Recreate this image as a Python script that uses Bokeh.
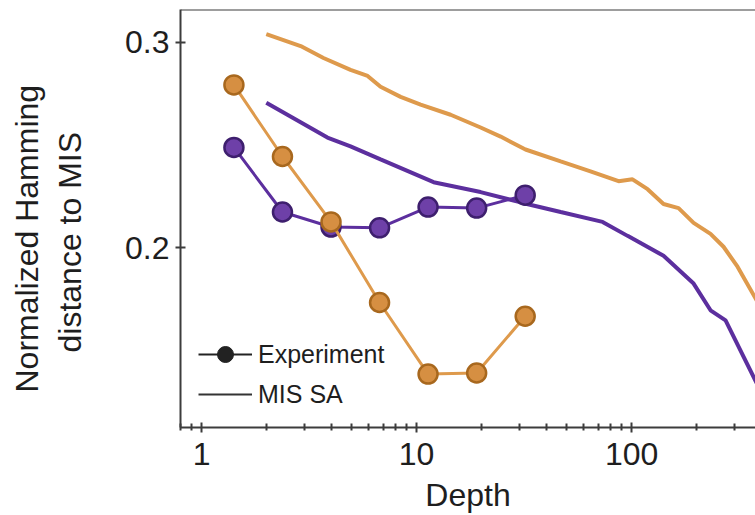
import math
from bokeh.plotting import figure
from bokeh.models import FixedTicker, Span, Title, Legend, LegendItem, Range1d
from bokeh.embed import file_html
from bokeh.resources import INLINE

# ---- data ----
exp_depth = [1.414, 2.378, 4.0, 6.727, 11.31, 19.03, 32.0]
exp_purple = [0.2488, 0.2174, 0.2101, 0.2097, 0.2198, 0.2193, 0.2256]
exp_orange = [0.2792, 0.2444, 0.2126, 0.1734, 0.1386, 0.1391, 0.1667]

sa_orange_depth = [2.0, 2.89, 3.69, 4.93, 5.92, 6.80, 8.43, 10.44, 14.4, 19.85, 24.6, 32.1,
                   46.8, 64.4, 87.0, 101.0, 118.7, 140.8, 165.4, 194.3, 232.9, 267.7, 311.0, 377.0, 420.0]
sa_orange = [0.3039, 0.2981, 0.2923, 0.2865, 0.2836, 0.2783, 0.2734, 0.2696, 0.2647, 0.2585, 0.2541, 0.2478,
             0.2420, 0.2372, 0.2324, 0.2333, 0.2285, 0.2213, 0.2193, 0.2121, 0.2068, 0.2005, 0.1908, 0.1754, 0.1667]

sa_purple_depth = [2.0, 3.85, 4.93, 6.80, 12.0, 19.85, 31.5, 46.8, 73.3, 95.8, 140.8, 194.3,
                   232.9, 273.6, 377.0, 420.0]
sa_purple = [0.2705, 0.2536, 0.2493, 0.2430, 0.2319, 0.2271, 0.2217, 0.2174, 0.2126, 0.2058, 0.1961, 0.1826,
             0.1696, 0.1647, 0.1353, 0.1256]

x_ticks = [1, 10, 100]
x_tick_labels = ["1", "10", "100"]
x_minor_ticks = [0.8, 0.9, 2, 3, 4, 5, 6, 7, 8, 9, 20, 30, 40, 50, 60, 70, 80, 90, 200, 300]
y_ticks = [0.2, 0.3]
y_tick_labels = ["0.2", "0.3"]

series_labels = ["Experiment", "MIS SA"]
x_label = "Depth"
y_label_lines = ["Normalized Hamming", "distance to MIS"]

# ---- styles ----
FONT = "Liberation Sans"
TXT = "#1e1e1e"
AX = "#3c3c3c"
FS = "32px"
orange_line = "#DE9A4C"
orange_fill = "#D68F42"
orange_edge = "#A8681E"
purple_line = "#5C2F9E"
purple_fill = "#6E40A8"
purple_edge = "#3E1F6E"

p = figure(width=755, height=515, x_axis_type="log",
           x_range=Range1d(0.798, 377), y_range=Range1d(0.1126, 0.3159),
           output_backend="svg", toolbar_location=None,
           min_border_left=180, min_border_right=0, min_border_top=9, min_border_bottom=85)
p.outline_line_color = None
p.background_fill_color = "white"
p.border_fill_color = "white"
p.grid.visible = False

# axes
for ax in (p.xaxis[0], p.yaxis[0]):
    ax.axis_line_color = AX
    ax.axis_line_width = 2
    ax.major_tick_line_color = AX
    ax.major_tick_line_width = 2
    ax.minor_tick_line_color = AX
    ax.minor_tick_line_width = 2
    ax.major_tick_in = 5
    ax.major_tick_out = 5
    ax.minor_tick_in = 4
    ax.minor_tick_out = 3
    ax.major_label_text_font = FONT
    ax.major_label_text_font_size = FS
    ax.major_label_text_color = TXT
    ax.axis_label_text_font = FONT
    ax.axis_label_text_font_size = FS
    ax.axis_label_text_font_style = "normal"
    ax.axis_label_text_color = TXT

p.xaxis.ticker = FixedTicker(ticks=x_ticks, minor_ticks=x_minor_ticks)
p.xaxis.major_label_overrides = {t: s for t, s in zip(x_ticks, x_tick_labels)}
p.xaxis.major_label_standoff = 10
p.xaxis.axis_label = x_label
p.xaxis.axis_label_standoff = 9

p.yaxis.ticker = FixedTicker(ticks=y_ticks, minor_ticks=[])
p.yaxis.major_label_overrides = {t: s for t, s in zip(y_ticks, y_tick_labels)}
p.yaxis.major_label_standoff = 6
p.yaxis.minor_tick_line_color = None

# top spine
p.add_layout(Span(location=0.3159, dimension="width", line_color=AX, line_width=2))

# y-axis label (two lines, as side titles)
p.add_layout(Title(text=y_label_lines[1], align="left", offset=75, standoff=70,
                   text_font=FONT, text_font_size=FS, text_font_style="normal",
                   text_color=TXT), "left")
p.add_layout(Title(text=y_label_lines[0], align="left", offset=35, standoff=-60,
                   text_font=FONT, text_font_size=FS, text_font_style="normal",
                   text_color=TXT), "left")

# SA curves
p.line(sa_purple_depth, sa_purple, line_color=purple_line, line_width=4)
p.line(sa_orange_depth, sa_orange, line_color=orange_line, line_width=4)

# experiment
p.line(exp_depth, exp_purple, line_color=purple_line, line_width=3)
p.scatter(exp_depth, exp_purple, size=19, fill_color=purple_fill, line_color=purple_edge, line_width=2.5)
p.line(exp_depth, exp_orange, line_color=orange_line, line_width=3)
p.scatter(exp_depth, exp_orange, size=19, fill_color=orange_fill, line_color=orange_edge, line_width=2.5)

# legend (black proxies, no visible data)
nan = float("nan")
leg_line = p.line([nan], [nan], line_color="#222222", line_width=2)
leg_dot = p.scatter([nan], [nan], size=16, fill_color="#222222", line_color="#222222")
leg_sa = p.line([nan], [nan], line_color="#333333", line_width=2)
legend = Legend(items=[LegendItem(label=series_labels[0], renderers=[leg_line, leg_dot]),
                       LegendItem(label=series_labels[1], renderers=[leg_sa])],
                location=(18, 13), orientation="vertical",
                glyph_width=54, glyph_height=40, label_height=40, spacing=-3,
                label_standoff=6, padding=0, margin=0,
                label_text_font=FONT, label_text_font_size="25px", label_text_color=TXT,
                border_line_color=None, background_fill_alpha=0)
p.add_layout(legend)

open("out.html", "w").write(file_html(p, INLINE))
